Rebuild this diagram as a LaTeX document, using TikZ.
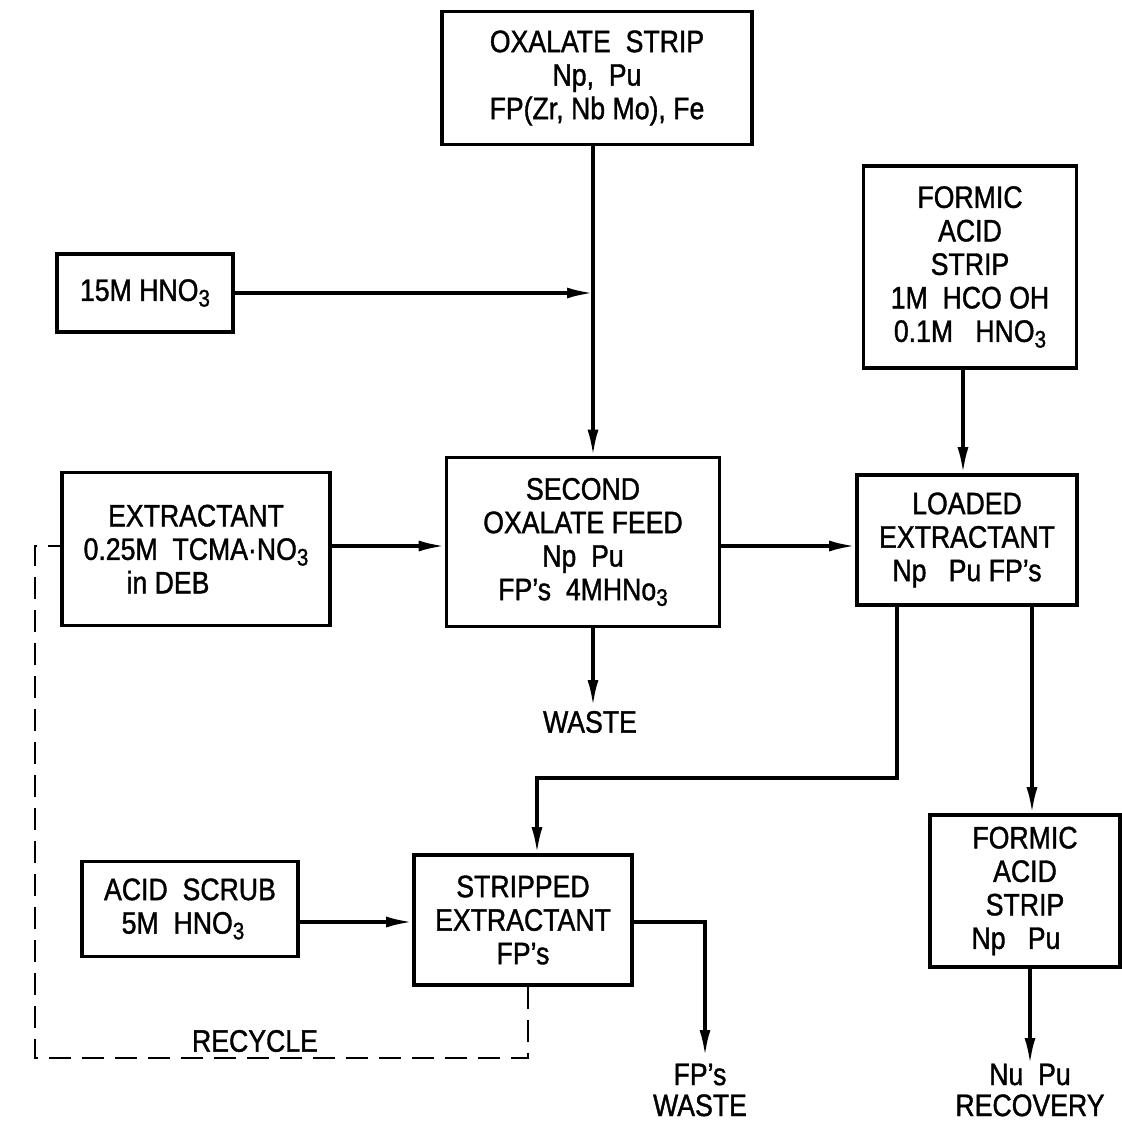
\documentclass[tikz,border=0pt]{standalone}
\usepackage{fontspec}
\setmainfont{Liberation Sans}[FakeStretch=0.86,FakeBold=1.2]
\usetikzlibrary{arrows.meta}
\newcommand{\sbt}[1]{\raisebox{-0.35ex}{\fontsize{24}{24}\selectfont #1}}
\begin{document}
\begin{tikzpicture}[x=1pt,y=-1pt,
  box/.style={draw,line width=3.6pt,inner sep=0pt,align=center,
    font=\fontsize{31}{33.5}\selectfont},
  lbl/.style={inner sep=0pt,align=center,font=\fontsize{31}{31}\selectfont},
  line/.style={line width=3.2pt},
  arr/.style={line width=3.2pt,-{Latex[length=26pt,width=11pt]}},
  dsh/.style={line width=2.6pt,dash pattern=on 22pt off 11pt}]
\useasboundingbox (0,0) rectangle (1122,1125);
% boxes
\node[box,minimum width=310pt,minimum height=133pt] (ox) at (597,78)
  {OXALATE\ \ STRIP\\ Np,\ \ Pu\\ FP(Zr, Nb Mo), Fe};
\node[box,minimum width=213pt,minimum height=202pt] (fa1) at (970,267)
  {FORMIC\\ ACID\\ STRIP\\ 1M\ \ HCO OH\\ 0.1M\ \ \ HNO\sbt{3}};
\node[box,minimum width=176pt,minimum height=78pt] (hno) at (145,293)
  {15M\ HNO\sbt{3}};
\node[box,minimum width=268pt,minimum height=153pt] (ext) at (196,549)
  {EXTRACTANT\\ 0.25M\ \ TCMA·NO\sbt{3}\\ in\ DEB\hspace*{56pt}};
\node[box,minimum width=273pt,minimum height=169pt] (sec) at (583,542)
  {SECOND\\ OXALATE FEED\\ Np\ \ Pu\\ FP's\ \ 4MHNo\sbt{3}};
\node[box,minimum width=220pt,minimum height=130pt] (load) at (967,540)
  {LOADED\\ EXTRACTANT\\ Np\ \ \ Pu FP's};
\node[box,minimum width=190pt,minimum height=152pt] (fa2) at (1025,891)
  {FORMIC\\ ACID\\ STRIP\\ Np\ \ \ Pu\hspace*{18pt}};
\node[box,minimum width=216pt,minimum height=95pt] (scrub) at (190,909)
  {ACID\ \ SCRUB\\ 5M\ \ HNO\sbt{3}\hspace*{14pt}};
\node[box,minimum width=218pt,minimum height=130pt] (strip) at (523,920)
  {STRIPPED\\ EXTRACTANT\\ FP's};
% labels
\node[lbl] (waste) at (590,722) {WASTE};
\node[lbl] (fpw) at (700,1090) {FP's\\ WASTE};
\node[lbl] (rec) at (1030,1090) {Nu\ \ Pu\\ RECOVERY};
\node[lbl] (recy) at (255,1041) {RECYCLE};
% coordinates
\coordinate (j1) at (593,293);
\coordinate (wend) at (593,706);
\coordinate (fa1x) at (963,0);
\coordinate (lx1) at (897,778);
\coordinate (sx) at (537,778);
\coordinate (lx2) at (1032,0);
\coordinate (fwc) at (705,922);
\coordinate (fwe) at (705,1056);
\coordinate (rece) at (1030,1064);
\coordinate (d1) at (528,1058);
\coordinate (d2) at (35,1058);
\coordinate (d3) at (35,546);
% connectors
\draw[line] (ox.south -| j1) -- (j1);
\draw[arr] (j1) -- (sec.north -| j1);
\draw[arr] (hno.east) -- (j1);
\draw[arr] (ext.east |- d3) -- (sec.west |- d3);
\draw[arr] (sec.east |- d3) -- (load.west |- d3);
\draw[arr] (sec.south -| j1) -- (wend);
\draw[arr] (fa1.south -| fa1x) -- (load.north -| fa1x);
\draw[arr] (load.south -| lx1) -- (lx1) -- (sx) -- (strip.north -| sx);
\draw[arr] (load.south -| lx2) -- (fa2.north -| lx2);
\draw[arr] (fa2.south -| rece) -- (rece);
\draw[arr] (scrub.east |- fwc) -- (strip.west |- fwc);
\draw[arr] (strip.east |- fwc) -- (fwc) -- (fwe);
\draw[dsh] (strip.south -| d1) -- (d1) -- (d2) -- (d3) -- (ext.west |- d3);
\end{tikzpicture}
\end{document}
